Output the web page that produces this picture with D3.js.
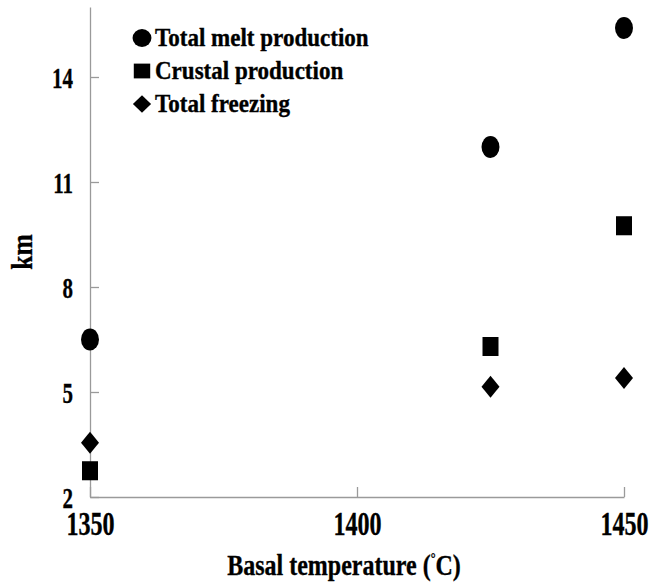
<!DOCTYPE html>
<html>
<head>
<meta charset="utf-8">
<script src="https://cdn.jsdelivr.net/npm/d3@7"></script>
<style>
body { margin: 0; background: #fff; }
text { font-family: "Liberation Serif", "Times New Roman", serif; font-weight: bold; fill: #000; stroke: #000; stroke-width: 0.35px; }
</style>
</head>
<body>
<div id="chart"></div>
<script>
var width = 666;
var height = 582;

// data
var temps = [1350, 1425, 1450];
var meltProduction = [6.5, 12.0, 15.4];
var crustalProduction = [2.75, 6.3, 9.75];
var totalFreezing = [3.55, 5.15, 5.4];
var seriesNames = ["Total melt production", "Crustal production", "Total freezing"];
var xTicks = [1350, 1400, 1450];
var yTicks = [2, 5, 8, 11, 14];

// plot box (note: "top" is taken by window.top)
var plotLeft = 90, plotRight = 624, plotTop = 7, plotBottom = 497;

var svg = d3.select("#chart").append("svg")
  .attr("width", width)
  .attr("height", height);

var xScale = d3.scaleLinear().domain([1350, 1450]).range([plotLeft, plotRight]);
var yScale = d3.scaleLinear().domain([2, 16]).range([plotBottom, plotTop]);

// custom diamond, wider than d3's own
var wideDiamond = {
  draw: function(context, size) {
    var h = Math.sqrt(size) / 2;
    context.moveTo(0, -h);
    context.lineTo(h, 0);
    context.lineTo(0, h);
    context.lineTo(-h, 0);
    context.closePath();
  }
};

var shapes = [
  { type: d3.symbolCircle, size: 254, sy: 1.22, lsize: 280, lsy: 0.95 },
  { type: d3.symbolSquare, size: 256, sy: 1.19, lsize: 270, lsy: 0.9 },
  { type: wideDiamond, size: 324, sy: 1.22, lsize: 330, lsy: 0.95 }
];

// axes
var xAxis = d3.axisBottom(xScale).tickValues(xTicks).tickSizeInner(-10).tickSizeOuter(0).tickFormat(d3.format("d"));
var yAxis = d3.axisLeft(yScale).tickValues(yTicks).tickSizeInner(-9).tickSizeOuter(0);

var gx = svg.append("g")
  .attr("class", "xAxis")
  .attr("transform", "translate(0," + plotBottom + ")")
  .call(xAxis);
var gy = svg.append("g")
  .attr("class", "yAxis")
  .attr("transform", "translate(" + plotLeft + ",0)")
  .call(yAxis);

svg.selectAll(".domain, .tick line").attr("stroke", "#9a9a9a").attr("stroke-width", 1.3);

gx.selectAll(".tick text")
  .attr("font-size", 33)
  .attr("font-family", null)
  .attr("y", 0)
  .attr("dy", 0)
  .attr("transform", "translate(0,38) scale(0.73,1)");

gy.selectAll(".tick text")
  .attr("font-size", 30)
  .attr("font-family", null)
  .attr("x", 0)
  .attr("dy", 0)
  .attr("transform", "translate(-17,10) scale(0.7,1)");

// points
var allSeries = [meltProduction, crustalProduction, totalFreezing];
allSeries.forEach(function(values, i) {
  var s = shapes[i];
  svg.append("g").selectAll("path")
    .data(values)
    .enter()
    .append("path")
    .attr("d", d3.symbol().type(s.type).size(s.size))
    .attr("fill", "#000")
    .attr("transform", function(d, j) {
      return "translate(" + xScale(temps[j]) + "," + yScale(d) + ") scale(1," + s.sy + ")";
    });
});

// legend
var legend = svg.append("g").attr("transform", "translate(142,38)");
seriesNames.forEach(function(name, i) {
  var s = shapes[i];
  var row = legend.append("g").attr("transform", "translate(0," + (i * 33) + ")");
  row.append("path")
    .attr("d", d3.symbol().type(s.type).size(s.lsize))
    .attr("transform", "scale(1," + s.lsy + ")")
    .attr("fill", "#000");
  row.append("text")
    .attr("transform", "translate(13,8) scale(0.94,1)")
    .attr("font-size", 24.5)
    .text(name);
});

// axis titles
var xTitle = svg.append("text")
  .attr("transform", "translate(344,575) scale(0.8,1)")
  .attr("text-anchor", "middle")
  .attr("font-size", 30);
xTitle.append("tspan").text("Basal temperature (");
xTitle.append("tspan").attr("font-size", 15).attr("dy", -12).text("\u00b0");
xTitle.append("tspan").attr("dy", 12).text("C)");

svg.append("text")
  .attr("transform", "translate(32,252) rotate(-90) scale(0.85,1)")
  .attr("text-anchor", "middle")
  .attr("font-size", 30)
  .text("km");
</script>
</body>
</html>
